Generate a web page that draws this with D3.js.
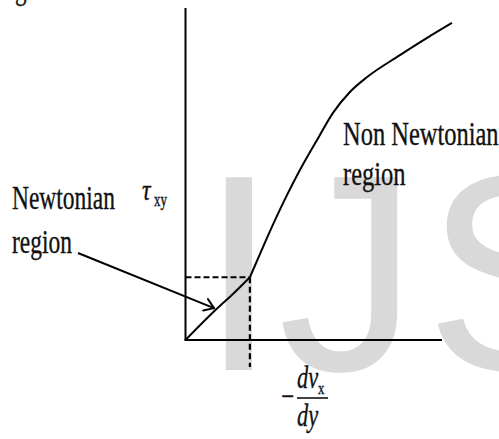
<!DOCTYPE html>
<html>
<head>
<meta charset="utf-8">
<script src="https://cdn.jsdelivr.net/npm/d3@7/dist/d3.min.js"></script>
<style>
  html, body { margin: 0; padding: 0; background: #fff; }
  svg { display: block; }
</style>
</head>
<body>
<script>
// ---- data (schematic flow curve, arbitrary units 0..100) ----
const newtonianX = [0, 12.2, 18.7, 25.1];
const newtonianY = [0, 9.4, 14.0, 18.9];
const nonNewtonianX = [25.1, 30.2, 34.9, 39.6, 44.6, 51.7, 57.5, 64.1, 70.8, 83.6, 94.2, 103.9];
const nonNewtonianY = [18.9, 28.0, 36.1, 43.7, 51.2, 60.8, 68.4, 74.7, 79.2, 85.8, 91.0, 95.5];
const transitionX = 25.1;   // limit of Newtonian region
const transitionY = 18.9;
const axisMax = 100;
const labels = ["Newtonian", "region", "Non Newtonian", "region"];
const watermark = ["I", "J", "S"];

const W = 499, H = 439;
const svg = d3.select("body").append("svg").attr("width", W).attr("height", H);
svg.append("rect").attr("width", W).attr("height", H).attr("fill", "#fff");

const x = d3.scaleLinear().domain([0, axisMax]).range([185.5, 442]);
const y = d3.scaleLinear().domain([0, axisMax]).range([340, 8]);

// ---- watermark ----
const wm = svg.append("g").attr("fill", "#d9d9d9")
  .style("font-family", "'Liberation Sans', Arial, sans-serif").style("font-size", "280px");
const wmX = [200, 278, 425];
watermark.forEach((c, i) => wm.append("text").attr("x", wmX[i]).attr("y", 370).text(c));

function label(txt, px, py, size, sx, italic) {
  const t = svg.append("text")
    .attr("transform", `translate(${px},${py}) scale(${sx},1)`)
    .style("font-family", "'Liberation Serif', 'Times New Roman', serif")
    .style("font-size", size + "px")
    .attr("fill", "#111")
    .attr("stroke", "#111").attr("stroke-width", 0.35)
    .text(txt);
  if (italic) t.style("font-style", "italic");
  return t;
}
// clipped caption fragment at top
label("gure.", 15, -1.5, 33, 0.7);

// ---- axes ----
svg.append("line").attr("x1", x(0)).attr("x2", x(0)).attr("y1", y(0)).attr("y2", y(axisMax))
  .attr("stroke", "#000").attr("stroke-width", 2);
svg.append("line").attr("x1", x(0) - 1).attr("x2", x(axisMax)).attr("y1", y(0)).attr("y2", y(0))
  .attr("stroke", "#000").attr("stroke-width", 2);

// ---- dashed guides ----
svg.append("line").attr("x1", x(0)).attr("x2", x(transitionX)).attr("y1", y(transitionY)).attr("y2", y(transitionY))
  .attr("stroke", "#000").attr("stroke-width", 2.2).attr("stroke-dasharray", "6,3");
svg.append("line").attr("x1", x(transitionX)).attr("x2", x(transitionX)).attr("y1", y(transitionY)).attr("y2", y(-8.1))
  .attr("stroke", "#000").attr("stroke-width", 2.2).attr("stroke-dasharray", "6,3.5");

// ---- curve ----
const line = d3.line().x(d => x(d[0])).y(d => y(d[1])).curve(d3.curveMonotoneX);
svg.append("path").datum(newtonianX.map((v, i) => [v, newtonianY[i]]))
  .attr("d", line).attr("fill", "none").attr("stroke", "#000").attr("stroke-width", 2);
svg.append("path").datum(nonNewtonianX.map((v, i) => [v, nonNewtonianY[i]]))
  .attr("d", line).attr("fill", "none").attr("stroke", "#000").attr("stroke-width", 2);

// ---- arrow ----
const a0 = [78, 253], a1 = [x(11.1), y(9.6)];
svg.append("line").attr("x1", a0[0]).attr("y1", a0[1]).attr("x2", a1[0]).attr("y2", a1[1])
  .attr("stroke", "#000").attr("stroke-width", 2);
const ang = Math.atan2(a1[1] - a0[1], a1[0] - a0[0]);
[-0.6, 0.6].forEach(o => {
  svg.append("line").attr("x1", a1[0]).attr("y1", a1[1])
    .attr("x2", a1[0] - 11 * Math.cos(ang + o)).attr("y2", a1[1] - 11 * Math.sin(ang + o))
    .attr("stroke", "#000").attr("stroke-width", 2).attr("stroke-linecap", "round");
});

// ---- text labels ----
label(labels[0], 12, 209, 34, 0.69);
label(labels[1], 12, 253, 34, 0.69);
label(labels[2], 343, 145, 34, 0.72);
label(labels[3], 343, 185, 34, 0.72);

// tau_xy
label("τ", 142, 200, 30, 0.8, true);
label("xy", 154, 206, 18, 0.72);

// - dv_x / dy
label("−", 281, 407, 32, 0.72);
label("dv", 297, 388, 32, 0.7, true);
label("x", 318, 394, 17, 0.75);
svg.append("line").attr("x1", 297).attr("x2", 328).attr("y1", 398).attr("y2", 398)
  .attr("stroke", "#111").attr("stroke-width", 1.6);
label("dy", 297, 426, 32, 0.7, true);
</script>
</body>
</html>
